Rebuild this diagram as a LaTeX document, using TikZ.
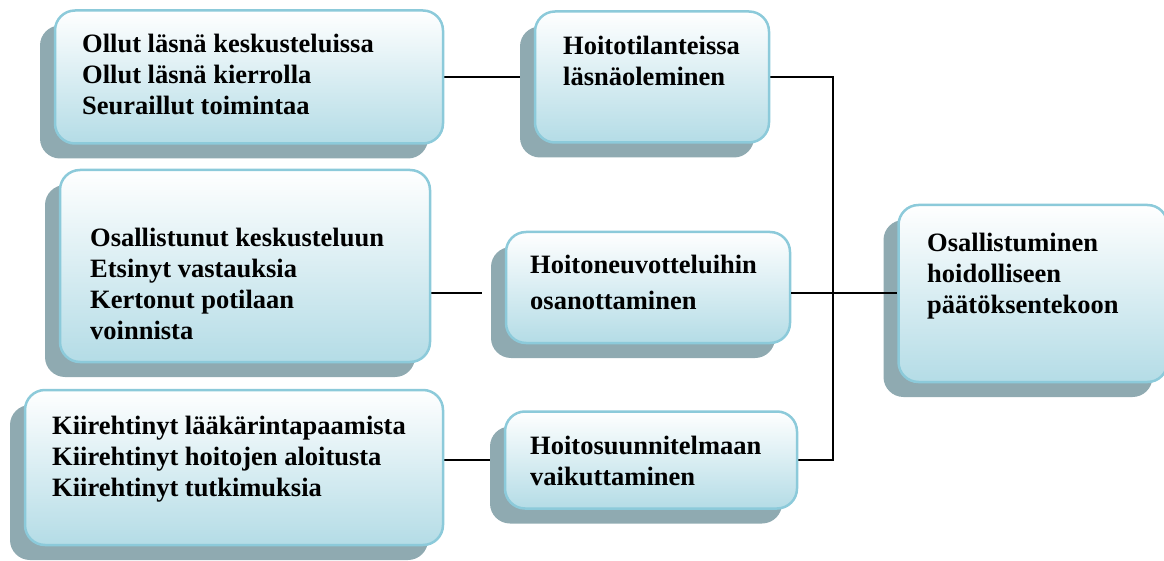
\documentclass[tikz,border=0pt]{standalone}
\usepackage{fontspec}
\setmainfont{Liberation Serif}
\usetikzlibrary{shadows,backgrounds}
\definecolor{rimblue}{RGB}{140,202,218}
\definecolor{fillblue}{RGB}{180,220,230}
\definecolor{shadowgray}{RGB}{143,170,177}
\tikzset{
  box/.style={draw=rimblue, line width=2.5pt, rounded corners=20pt,
    top color=white, bottom color=fillblue, inner sep=0pt,
    drop shadow={shadow xshift=-15pt, shadow yshift=-15pt, opacity=1,
      fill=shadowgray, draw=none}},
  boxtext/.style={anchor=north west, inner sep=0pt, align=left,
    font=\bfseries\fontsize{26.5}{31}\selectfont},
  link/.style={line width=2pt, black},
}
\begin{document}
\begin{tikzpicture}[x=1pt, y=-1pt]
  \clip (0,0) rectangle (1164,561);

  % boxes
  \node[box, minimum width=388pt, minimum height=133pt] (b1) at (249,77) {};
  \node[box, minimum width=234pt, minimum height=131pt] (b2) at (652,77) {};
  \node[box, minimum width=269pt, minimum height=177pt] (b3) at (1033,293.5) {};
  \node[box, minimum width=370pt, minimum height=192pt] (b4) at (245,266) {};
  \node[box, minimum width=284pt, minimum height=111pt] (b5) at (648,287.5) {};
  \node[box, minimum width=418pt, minimum height=155pt] (b6) at (234,467.5) {};
  \node[box, minimum width=292pt, minimum height=97pt] (b7) at (651,460) {};

  % texts
  \node[boxtext] (t1) at (82,34) {Ollut läsnä keskusteluissa\\Ollut läsnä kierrolla\\Seuraillut toimintaa};
  \node[boxtext] (t2) at (563,36) {Hoitotilanteissa\\läsnäoleminen};
  \node[boxtext] (t3) at (927,233) {Osallistuminen\\hoidolliseen\\päätöksentekoon};
  \node[boxtext] (t4) at (90,228) {Osallistunut keskusteluun\\Etsinyt vastauksia\\Kertonut potilaan\\voinnista};
  \node[boxtext, font=\bfseries\fontsize{26.5}{36}\selectfont] (t5) at (530,255) {Hoitoneuvotteluihin\\osanottaminen};
  \node[boxtext] (t6) at (52,416) {Kiirehtinyt lääkärintapaamista\\Kiirehtinyt hoitojen aloitusta\\Kiirehtinyt tutkimuksia};
  \node[boxtext] (t7) at (530,436) {Hoitosuunnitelmaan\\vaikuttaminen};

  % connectors
  \coordinate (spine) at (833,293);
  \coordinate (gap) at ([xshift=-23pt]b5.west);
  \begin{scope}[on background layer]
    \draw[link] (b1.east) -- (b2.west);
    \draw[link] (b2.east) -| (spine |- b7.east) -- (b7.east);
    \draw[link] (b4.east |- spine) -- (gap |- spine);
    \draw[link] (b6.east |- b7.west) -- (b7.west);
  \end{scope}
  \draw[link] (b5.east |- spine) -- (b3.west |- spine);
\end{tikzpicture}
\end{document}
